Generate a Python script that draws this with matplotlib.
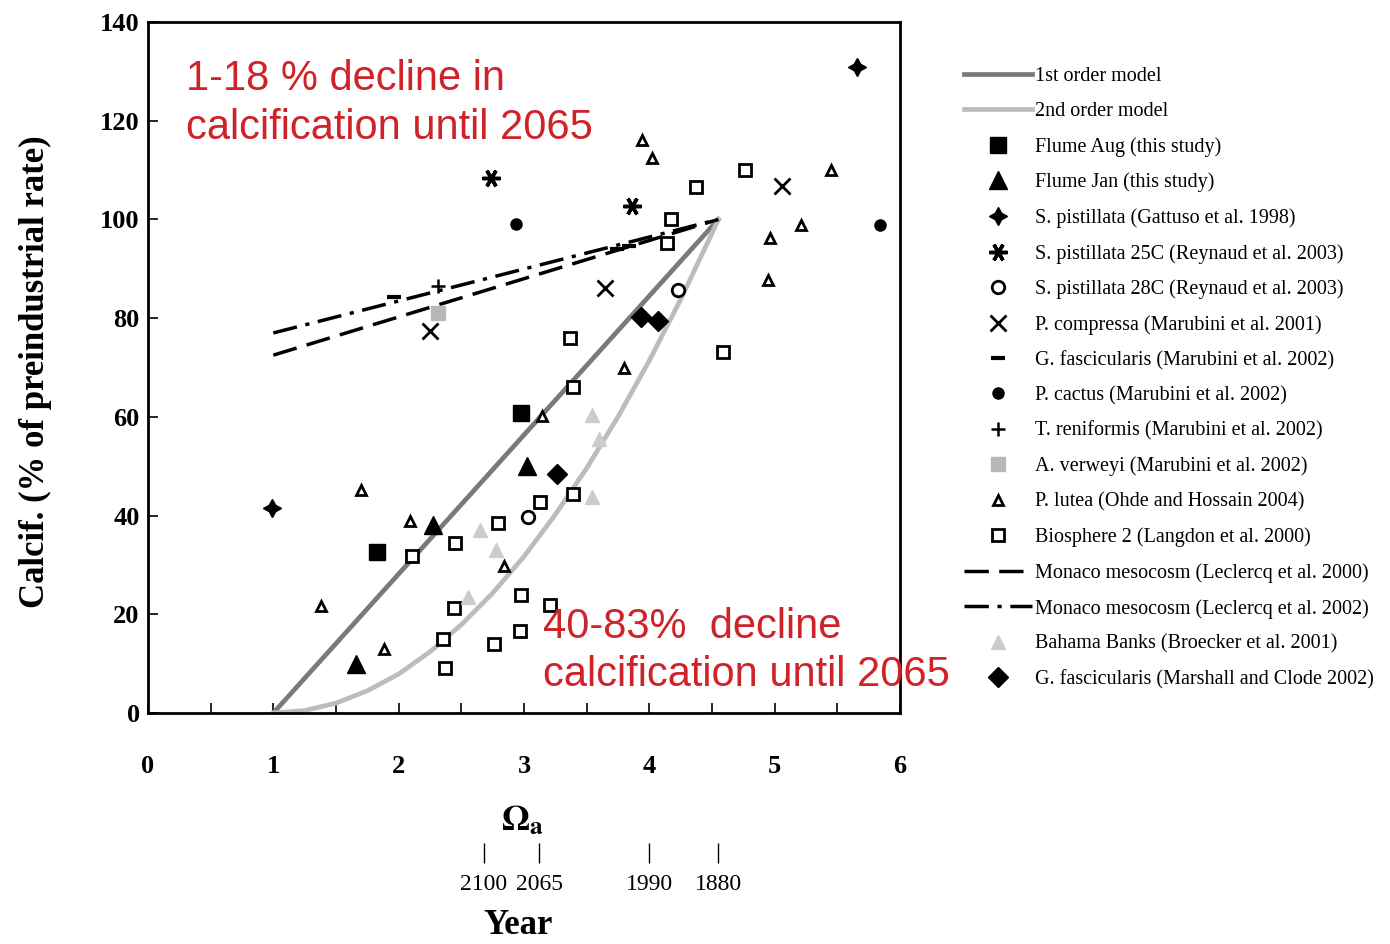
import matplotlib
matplotlib.use("Agg")
import matplotlib.pyplot as plt
from matplotlib.lines import Line2D

plt.rcParams['font.family'] = ['Liberation Serif', 'DejaVu Serif']
plt.rcParams['mathtext.fontset'] = 'stix'

# ---------------- data ----------------
# Model curves (calcification, % of preindustrial rate, vs aragonite saturation)
model1_omega = [1.0, 4.55]
model1_calc = [0.0, 100.0]
model2_omega = [1.0, 1.25, 1.5, 1.75, 2.0, 2.25, 2.5, 2.75, 3.0, 3.25, 3.5, 3.75, 4.0, 4.25, 4.5, 4.55]
model2_calc = [0.0, 0.5, 2.0, 4.5, 7.9, 12.4, 17.9, 24.3, 31.7, 40.2, 49.6, 60.0, 71.4, 83.8, 97.2, 100.0]

leclercq2000_omega = [1.0, 4.55]
leclercq2000_calc = [72.5, 100.0]
leclercq2002_omega = [1.0, 4.55]
leclercq2002_calc = [77.0, 100.0]

flume_aug_omega = [1.83, 2.98]
flume_aug_calc = [32.6, 60.7]
flume_jan_omega = [1.66, 2.27, 3.02]
flume_jan_calc = [9.9, 38.0, 50.0]
gattuso_omega = [0.99, 5.66]
gattuso_calc = [41.5, 130.8]
reynaud25_omega = [2.74, 3.86]
reynaud25_calc = [108.3, 102.8]
reynaud28_omega = [3.03, 4.23]
reynaud28_calc = [39.7, 85.8]
compressa_omega = [2.25, 3.65, 5.06]
compressa_calc = [77.3, 86.2, 106.7]
gfasc_marubini_omega = [1.96, 3.74, 3.84]
gfasc_marubini_calc = [84.2, 94.0, 94.6]
cactus_omega = [2.94, 5.84]
cactus_calc = [99.0, 98.8]
reniformis_omega = [2.31]
reniformis_calc = [86.5]
verweyi_omega = [2.31]
verweyi_calc = [81.0]
lutea_omega = [1.38, 1.70, 1.88, 2.09, 2.84, 3.14, 3.80, 3.94, 4.02, 4.95, 4.96, 5.21, 5.45]
lutea_calc = [21.7, 45.1, 13.0, 38.9, 29.8, 60.1, 70.0, 116.0, 112.5, 87.7, 96.2, 98.8, 110.0]
biosphere_omega = [2.11, 2.35, 2.37, 2.44, 2.45, 2.76, 2.79, 2.97, 2.98, 3.13, 3.21,
                   3.37, 3.39, 3.39, 4.14, 4.17, 4.37, 4.59, 4.76]
biosphere_calc = [31.8, 15.0, 9.1, 21.2, 34.4, 14.0, 38.5, 16.6, 23.9, 42.7, 21.9,
                  75.9, 66.0, 44.4, 95.3, 100.0, 106.5, 73.1, 110.0]
bahama_omega = [2.55, 2.65, 2.78, 3.54, 3.60, 3.54]
bahama_calc = [23.5, 37.0, 33.0, 60.3, 55.5, 43.7]
marshall_omega = [3.26, 3.93, 4.07]
marshall_calc = [48.4, 80.2, 79.4]

year_labels = ['2100', '2065', '1990', '1880']
year_omega = [2.68, 3.12, 4.0, 4.55]

omega_ticks = [0, 1, 2, 3, 4, 5, 6]
calc_ticks = [0, 20, 40, 60, 80, 100, 120, 140]

# ---------------- figure ----------------
W, H = 1390, 944
fig = plt.figure(figsize=(W / 100, H / 100), dpi=100)
ax = fig.add_axes([148 / W, (H - 713) / H, 752 / W, 691 / H])
ax.set_xlim(0, 6)
ax.set_ylim(0, 140)

dark_grey = '#7a7a7a'
light_grey = '#bcbcbc'

ax.plot(model1_omega, model1_calc, color=dark_grey, lw=3.4, zorder=2)
ax.plot(model2_omega, model2_calc, color=light_grey, lw=3.4, zorder=2)
ax.plot(leclercq2000_omega, leclercq2000_calc, color='black', lw=2.5,
        dashes=(7, 3), zorder=3)
ax.plot(leclercq2002_omega, leclercq2002_calc, color='black', lw=2.5,
        dashes=(7, 2.5, 1.2, 2.5), zorder=3)

styles = [
    (flume_aug_omega, flume_aug_calc, dict(marker='s', ms=12, mfc='black', mec='black')),
    (flume_jan_omega, flume_jan_calc, dict(marker='^', ms=13, mfc='black', mec='black')),
    (gattuso_omega, gattuso_calc, dict(marker=(4, 1, 0), ms=13, mfc='black', mec='black')),
    (reynaud25_omega, reynaud25_calc, dict(marker=(6, 2, 90), ms=13, mfc='black', mec='black', mew=2.5)),
    (reynaud28_omega, reynaud28_calc, dict(marker='o', ms=9, mfc='white', mec='black', mew=2)),
    (compressa_omega, compressa_calc, dict(marker='x', ms=11, mec='black', mew=2)),
    (gfasc_marubini_omega, gfasc_marubini_calc, dict(marker='_', ms=10, mec='black', mew=3)),
    (cactus_omega, cactus_calc, dict(marker='o', ms=8, mfc='black', mec='black')),
    (reniformis_omega, reniformis_calc, dict(marker='+', ms=10, mec='black', mew=1.8)),
    (verweyi_omega, verweyi_calc, dict(marker='s', ms=10, mfc='#b8b8b8', mec='#b8b8b8')),
    (lutea_omega, lutea_calc, dict(marker='^', ms=7, mfc='white', mec='black', mew=2)),
    (biosphere_omega, biosphere_calc, dict(marker='s', ms=9, mfc='white', mec='black', mew=2)),
    (bahama_omega, bahama_calc, dict(marker='^', ms=10, mfc='#cccccc', mec='#cccccc')),
    (marshall_omega, marshall_calc, dict(marker='D', ms=10, mfc='black', mec='black')),
]
for xs, ys, kw in styles:
    ax.plot(xs, ys, ls='none', zorder=4, **kw)

# axes styling
for sp in ax.spines.values():
    sp.set_linewidth(2.0)
ax.set_xticks(omega_ticks)
ax.set_yticks(calc_ticks)
ax.set_xticks([0.5, 1.5, 2.5, 3.5, 4.5, 5.5], minor=True)
ax.tick_params(axis='both', which='major', direction='in', length=7, width=1.2,
               labelsize=19, labelfontfamily='Liberation Serif')
ax.tick_params(axis='x', which='major', pad=30)
ax.tick_params(axis='y', which='major', pad=6)
ax.tick_params(axis='x', which='minor', direction='in', length=7, width=1.2)
for lab in ax.get_xticklabels() + ax.get_yticklabels():
    lab.set_fontweight('bold')

# red annotations
red = '#cf2329'
ax.text(0.30, 132.5, '1-18 % decline in\ncalcification until 2065', color=red,
        fontsize=30, family='Liberation Sans', va='top', ha='left',
        linespacing=1.3, zorder=6)
ax.text(3.15, 21.5, '40-83%  decline\ncalcification until 2065', color=red,
        fontsize=30, family='Liberation Sans', va='top', ha='left',
        linespacing=1.25, zorder=6, clip_on=False)

# axis titles
fig.text(35 / W, 1 - 372 / H, 'Calcif. (% of preindustrial rate)', rotation=90,
         ha='center', va='center', fontsize=25, fontweight='bold')
fig.text(522 / W, 1 - 822 / H, r'$\mathbf{\Omega}_{\mathbf{a}}$', ha='center',
         va='center', fontsize=26)
fig.text(518 / W, 1 - 925 / H, 'Year', ha='center', va='center', fontsize=25,
         fontweight='bold')

# year scale below the saturation axis
yax = fig.add_axes([148 / W, (H - 853) / H, 752 / W, 0.0001])
yax.set_xlim(0, 6)
yax.set_ylim(0, 1)
yax.patch.set_visible(False)
for sp in yax.spines.values():
    sp.set_visible(False)
yax.set_yticks([])
yax.set_xticks(year_omega)
yax.set_xticklabels(year_labels)
yax.tick_params(axis='x', direction='inout', length=14, width=1.0, labelsize=17, pad=8)

# legend
handles = [
    Line2D([], [], color=dark_grey, lw=3.4),
    Line2D([], [], color=light_grey, lw=3.4),
]
for xs, ys, kw in styles[:12]:
    handles.append(Line2D([], [], ls='none', **kw))
handles.append(Line2D([], [], color='black', lw=2.5, dashes=(7, 3)))
handles.append(Line2D([], [], color='black', lw=2.5, dashes=(7, 2.5, 1.2, 2.5)))
for xs, ys, kw in styles[12:]:
    handles.append(Line2D([], [], ls='none', **kw))

labels = [
    '1st order model',
    '2nd order model',
    'Flume Aug (this study)',
    'Flume Jan (this study)',
    'S. pistillata (Gattuso et al. 1998)',
    'S. pistillata 25C (Reynaud et al. 2003)',
    'S. pistillata 28C (Reynaud et al. 2003)',
    'P. compressa (Marubini et al. 2001)',
    'G. fascicularis (Marubini et al. 2002)',
    'P. cactus (Marubini et al. 2002)',
    'T. reniformis (Marubini et al. 2002)',
    'A. verweyi (Marubini et al. 2002)',
    'P. lutea (Ohde and Hossain 2004)',
    'Biosphere 2 (Langdon et al. 2000)',
    'Monaco mesocosm (Leclercq et al. 2000)',
    'Monaco mesocosm (Leclercq et al. 2002)',
    'Bahama Banks (Broecker et al. 2001)',
    'G. fascicularis (Marshall and Clode 2002)',
]
fig.legend(handles, labels, loc='upper left', bbox_to_anchor=(964 / W, 1 - 67 / H),
           frameon=False, fontsize=14.5, handlelength=3.4, handletextpad=0.15,
           labelspacing=0.79, borderaxespad=0, borderpad=0)

fig.savefig('out.png', dpi=100)
